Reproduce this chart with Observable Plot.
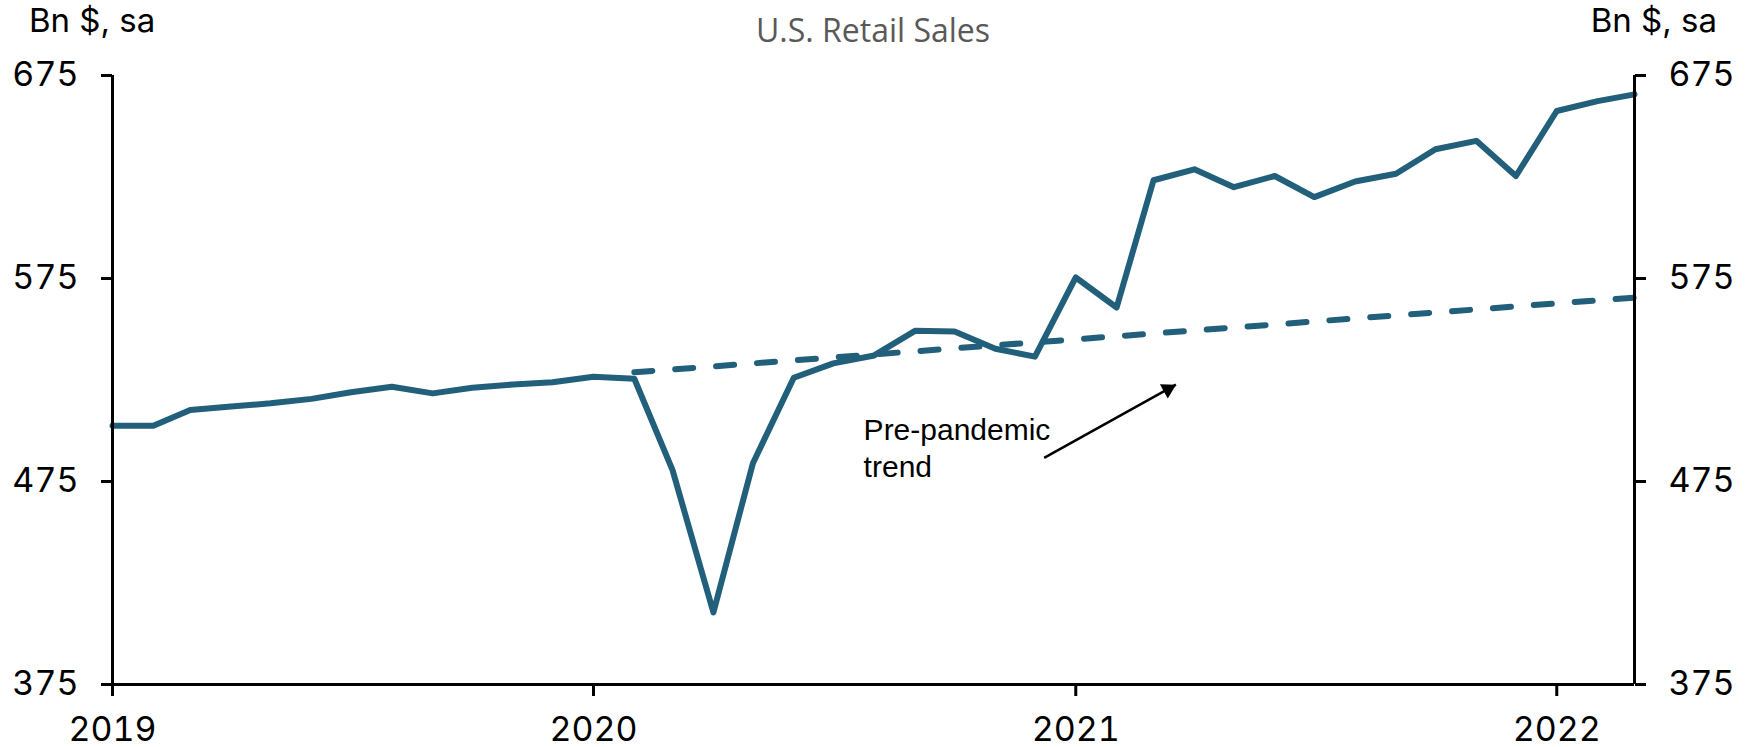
<!DOCTYPE html>
<html>
<head>
<meta charset="utf-8">
<script src="https://cdn.jsdelivr.net/npm/d3@7"></script>
<script src="https://cdn.jsdelivr.net/npm/@observablehq/plot@0.6"></script>
<style>
  html, body { margin: 0; padding: 0; background: #fff; }
  #wrap { position: relative; width: 1750px; height: 747px; }
  #wrap > svg { position: absolute; left: 0; top: 0; }
</style>
</head>
<body>
<div id="wrap"></div>
<script>
// ---- data ----
const months = [
  "2019-01","2019-02","2019-03","2019-04","2019-05","2019-06","2019-07","2019-08","2019-09","2019-10","2019-11","2019-12",
  "2020-01","2020-02","2020-03","2020-04","2020-05","2020-06","2020-07","2020-08","2020-09","2020-10","2020-11","2020-12",
  "2021-01","2021-02","2021-03","2021-04","2021-05","2021-06","2021-07","2021-08","2021-09","2021-10","2021-11","2021-12",
  "2022-01","2022-02","2022-03"
];
const retailSales = [
  502.5, 502.5, 510.2, 511.9, 513.5, 515.7, 519.0, 521.7, 518.4, 521.2, 522.8, 523.9,
  526.6, 525.6, 480.6, 410.5, 484.0, 526.1, 533.2, 537.1, 549.2, 548.9, 540.4, 536.5,
  575.5, 560.7, 623.4, 628.8, 620.0, 625.5, 615.1, 622.8, 626.6, 638.7, 642.8, 625.5,
  657.5, 662.4, 665.7
];
const trendMonths = ["2020-02", "2022-03"];
const trendValues = [528.8, 565.6];
const yTicks = [375, 475, 575, 675];
const yearTicks = ["2019", "2020", "2021", "2022"];
const titleText = "U.S. Retail Sales";
const unitText = "Bn $, sa";
const noteText = "Pre-pandemic\ntrend";

// ---- build tables ----
const parseM = d3.utcParse("%Y-%m");
const parseY = d3.utcParse("%Y");
const sales = months.map((m, i) => ({date: parseM(m), value: retailSales[i]}));
const trend = trendMonths.map((m, i) => ({date: parseM(m), value: trendValues[i]}));
const years = yearTicks.map(parseY);

const lineColor = "#215f7b";
const tickFont = "Inter, 'Liberation Sans', sans-serif";

// annotation anchor points (data coordinates)
const arrowTail = {date: new Date(Date.UTC(2020, 11, 8)), value: 486.6};
const arrowTip  = {date: new Date(Date.UTC(2021, 2, 18)), value: 522.7};
const notePos   = {date: new Date(Date.UTC(2020, 6, 24)), value: 508.3};

const chart = Plot.plot({
  width: 1750,
  height: 747,
  marginLeft: 112,
  marginRight: 116,
  marginTop: 75,
  marginBottom: 63,
  style: {fontFamily: tickFont, fontSize: "34px", color: "#000", background: "transparent", overflow: "visible"},
  x: {type: "utc", domain: [parseM(months[0]), parseM(months[months.length - 1])]},
  y: {domain: [375, 675]},
  marks: [
    Plot.axisY({anchor: "left", ticks: yTicks, tickSize: 11, tickPadding: 23, strokeWidth: 3, label: null, fontSize: 34, tickFormat: d => String(d)}),
    Plot.axisY({anchor: "right", ticks: yTicks, tickSize: 11, tickPadding: 23, strokeWidth: 3, label: null, fontSize: 34, tickFormat: d => String(d)}),
    Plot.axisX({ticks: years, tickSize: 12, tickPadding: 20, strokeWidth: 3, label: null, fontSize: 34, tickFormat: d3.utcFormat("%Y")}),
    Plot.line(trend, {x: "date", y: "value", stroke: lineColor, strokeWidth: 6, strokeDasharray: "18,23", strokeLinecap: "round"}),
    Plot.line(sales, {x: "date", y: "value", stroke: lineColor, strokeWidth: 6, strokeLinejoin: "round"}),
    Plot.ruleY([375], {stroke: "#000", strokeWidth: 3}),
    Plot.ruleX([parseM(months[0]), parseM(months[months.length - 1])], {stroke: "#000", strokeWidth: 3}),
    Plot.link([{x1: arrowTail.date, y1: arrowTail.value, x2: arrowTip.date, y2: arrowTip.value}],
      {x1: "x1", y1: "y1", x2: "x2", y2: "y2", stroke: "#000", strokeWidth: 2.5}),
    Plot.dot([arrowTip], {x: "date", y: "value", symbol: "triangle", r: 6, fill: "#000", stroke: "none", rotate: 61, dx: -8, dy: 4.5}),
    Plot.text([notePos], {x: "date", y: "value", text: () => noteText, textAnchor: "start", lineAnchor: "top",
      fontSize: 30, fontFamily: "'Liberation Sans', Arial, sans-serif", lineHeight: 1.23, fill: "#000"})
  ]
});
document.getElementById("wrap").appendChild(chart);

// ---- title and unit labels (overlay text) ----
const overlay = d3.select("#wrap").append("svg")
  .attr("width", 1750).attr("height", 747)
  .style("pointer-events", "none");
overlay.append("text")
  .attr("x", 873).attr("y", 42)
  .attr("text-anchor", "middle")
  .attr("font-family", "'Open Sans', sans-serif")
  .attr("font-size", 32)
  .attr("fill", "#595959")
  .text(titleText);
overlay.append("text")
  .attr("x", 29).attr("y", 32)
  .attr("font-family", tickFont)
  .attr("font-size", 33)
  .attr("fill", "#000")
  .text(unitText);
overlay.append("text")
  .attr("x", 1717).attr("y", 32)
  .attr("text-anchor", "end")
  .attr("font-family", tickFont)
  .attr("font-size", 33)
  .attr("fill", "#000")
  .text(unitText);
</script>
</body>
</html>
